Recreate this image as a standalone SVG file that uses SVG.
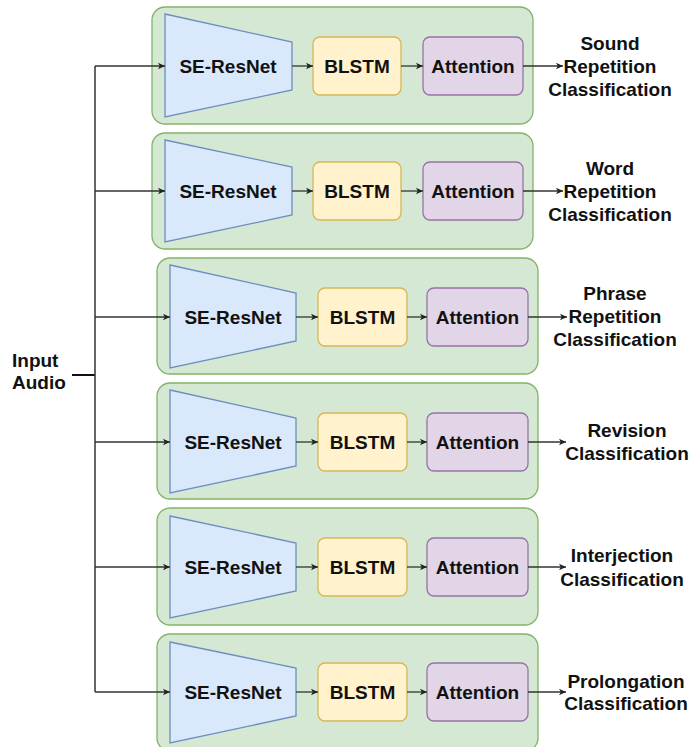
<svg xmlns="http://www.w3.org/2000/svg" width="692" height="747" viewBox="0 0 692 747">
<defs>
<marker id="ah" markerWidth="8" markerHeight="8" refX="7" refY="4" orient="auto" markerUnits="userSpaceOnUse">
<path d="M0,0.8 L7,4 L0,7.2 L1.8,4 Z" fill="#222"/>
</marker>
<style>
text{font-family:"Liberation Sans",Arial,Helvetica,sans-serif;font-weight:bold;font-size:19px;fill:#111;}
.grp{fill:#d5e8d4;stroke:#82b366;stroke-width:1.3;}
.enc{fill:#dae8fc;stroke:#6c8ebf;stroke-width:1.3;}
.lstm{fill:#fff2cc;stroke:#d6b656;stroke-width:1.3;}
.att{fill:#e1d5e7;stroke:#9673a6;stroke-width:1.3;}
.c{fill:none;stroke:#333;stroke-width:1.5;}
.ca{fill:none;stroke:#333;stroke-width:1.3;marker-end:url(#ah);}
</style>
</defs>
<rect width="692" height="747" fill="#fff"/>

<g id="input">
<text x="12" y="367">Input</text>
<text x="12" y="389">Audio</text>
</g>

<g id="row1">
<rect class="grp" x="152" y="7" width="381" height="117" rx="13"/>
<polygon class="enc" points="165,14 292,42 292,90 165,117"/>
<text x="228" y="73" text-anchor="middle">SE-ResNet</text>
<rect class="lstm" x="313" y="37" width="88" height="58" rx="7"/>
<text x="357" y="73" text-anchor="middle">BLSTM</text>
<rect class="att" x="423" y="37" width="100" height="58" rx="7"/>
<text x="473" y="73" text-anchor="middle">Attention</text>
</g>
<g id="row2">
<rect class="grp" x="152" y="133" width="381" height="116" rx="13"/>
<polygon class="enc" points="165,140 292,167 292,215 165,242"/>
<text x="228" y="198" text-anchor="middle">SE-ResNet</text>
<rect class="lstm" x="313" y="162" width="88" height="58" rx="7"/>
<text x="357" y="198" text-anchor="middle">BLSTM</text>
<rect class="att" x="423" y="162" width="100" height="58" rx="7"/>
<text x="473" y="198" text-anchor="middle">Attention</text>
</g>
<g id="row3">
<rect class="grp" x="157" y="258" width="381" height="116" rx="13"/>
<polygon class="enc" points="170,265 296,293 296,341 170,368"/>
<text x="233" y="324" text-anchor="middle">SE-ResNet</text>
<rect class="lstm" x="318" y="288" width="89" height="58" rx="7"/>
<text x="362.5" y="324" text-anchor="middle">BLSTM</text>
<rect class="att" x="427" y="288" width="101" height="58" rx="7"/>
<text x="477.5" y="324" text-anchor="middle">Attention</text>
</g>
<g id="row4">
<rect class="grp" x="157" y="383" width="381" height="116" rx="13"/>
<polygon class="enc" points="170,390 296,418 296,466 170,493"/>
<text x="233" y="449" text-anchor="middle">SE-ResNet</text>
<rect class="lstm" x="318" y="413" width="89" height="58" rx="7"/>
<text x="362.5" y="449" text-anchor="middle">BLSTM</text>
<rect class="att" x="427" y="413" width="101" height="58" rx="7"/>
<text x="477.5" y="449" text-anchor="middle">Attention</text>
</g>
<g id="row5">
<rect class="grp" x="157" y="508" width="381" height="117" rx="13"/>
<polygon class="enc" points="170,516 296,543 296,591 170,618"/>
<text x="233" y="574" text-anchor="middle">SE-ResNet</text>
<rect class="lstm" x="318" y="538" width="89" height="58" rx="7"/>
<text x="362.5" y="574" text-anchor="middle">BLSTM</text>
<rect class="att" x="427" y="538" width="101" height="58" rx="7"/>
<text x="477.5" y="574" text-anchor="middle">Attention</text>
</g>
<g id="row6">
<rect class="grp" x="157" y="634" width="381" height="117" rx="13"/>
<polygon class="enc" points="170,642 296,668 296,716 170,743"/>
<text x="233" y="699" text-anchor="middle">SE-ResNet</text>
<rect class="lstm" x="318" y="663" width="89" height="58" rx="7"/>
<text x="362.5" y="699" text-anchor="middle">BLSTM</text>
<rect class="att" x="427" y="663" width="101" height="58" rx="7"/>
<text x="477.5" y="699" text-anchor="middle">Attention</text>
</g>

<g id="labels" text-anchor="middle">
<text x="610" y="50">Sound</text>
<text x="610" y="73">Repetition</text>
<text x="610" y="96">Classification</text>
<text x="610" y="175">Word</text>
<text x="610" y="198">Repetition</text>
<text x="610" y="221">Classification</text>
<text x="615" y="300">Phrase</text>
<text x="615" y="323">Repetition</text>
<text x="615" y="346">Classification</text>
<text x="627" y="437">Revision</text>
<text x="627" y="460">Classification</text>
<text x="622" y="562">Interjection</text>
<text x="622" y="586">Classification</text>
<text x="626" y="688">Prolongation</text>
<text x="626" y="710">Classification</text>
</g>

<g id="connectors">
<path class="c" d="M72,375 H95" style="stroke:#111;stroke-width:2"/>
<path class="c" d="M95,66 V692"/>
<path class="ca" d="M95,66 H165"/>
<path class="ca" d="M95,191 H165"/>
<path class="ca" d="M95,317 H170"/>
<path class="ca" d="M95,442 H170"/>
<path class="ca" d="M95,567 H170"/>
<path class="ca" d="M95,692 H170"/>
<path class="ca" d="M292,66 H313"/>
<path class="ca" d="M401,66 H423"/>
<path class="ca" d="M523,66 H563"/>
<path class="ca" d="M292,191 H313"/>
<path class="ca" d="M401,191 H423"/>
<path class="ca" d="M523,191 H563"/>
<path class="ca" d="M296,317 H318"/>
<path class="ca" d="M407,317 H427"/>
<path class="ca" d="M528,317 H567"/>
<path class="ca" d="M296,442 H318"/>
<path class="ca" d="M407,442 H427"/>
<path class="ca" d="M528,442 H566"/>
<path class="ca" d="M296,567 H318"/>
<path class="ca" d="M407,567 H427"/>
<path class="ca" d="M528,567 H566"/>
<path class="ca" d="M296,692 H318"/>
<path class="ca" d="M407,692 H427"/>
<path class="ca" d="M528,692 H566"/>
</g>
</svg>
